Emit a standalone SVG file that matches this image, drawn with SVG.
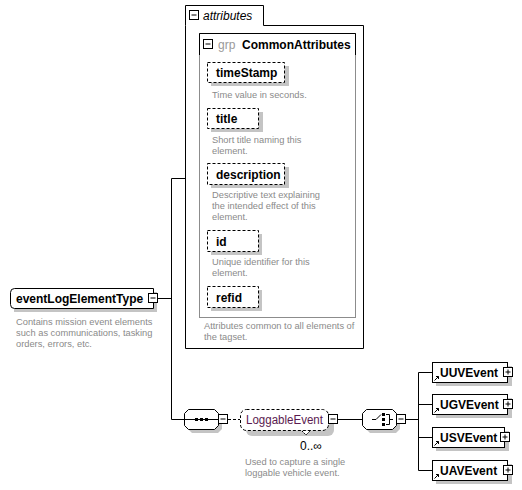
<svg xmlns="http://www.w3.org/2000/svg" width="522" height="490" viewBox="0 0 522 490">
<style>
text{font-family:"Liberation Sans",Arial,sans-serif}
.lbl{font-size:12px;font-weight:bold;fill:#000}
.desc{font-size:9.3px;fill:#8a8a8a}
.box{fill:#fff;stroke:#000;stroke-width:1}
.dbox{fill:#fff;stroke:#000;stroke-width:1;stroke-dasharray:3,2}
.sh{fill:#c4c4c4;stroke:none}
.pm{fill:#fff;stroke:#000;stroke-width:1}
.con{fill:none;stroke:#000;stroke-width:1}
</style>
<defs>
<g id="minus"><rect class="pm" x="0.5" y="0.5" width="9" height="9"/><path d="M2.5,5H7.5" stroke="#000"/></g>
<g id="plus"><rect class="pm" x="0.5" y="0.5" width="9" height="9"/><path d="M2.5,5H7.5M5,2.5V7.5" stroke="#000"/></g>
<path id="refarrow" d="M0,4L4,0M1.5,0H4V2.5" fill="none" stroke="#000" stroke-width="1"/>
</defs>

<g id="connectors">
<path class="con" d="M158,298.5H171.5M171.5,178.5V419.5M171.5,178.5H185M171.5,419.5H184"/>
<path class="con" d="M228,419.5H240" stroke-dasharray="3,2"/>
<path class="con" d="M338,419.5H362M406,419.5H418.5M418.5,372.5V470.5M418.5,372.5H432M418.5,404.5H432M418.5,437.5H432M418.5,470.5H432"/>
</g>

<g id="attributes">
<path class="box" d="M185.5,25.5V5.5H263.5V25.5H363.5V348.5H185.5Z"/>
<use href="#minus" x="189" y="10"/>
<text x="203" y="20" font-size="12" font-style="italic" fill="#000">attributes</text>
<text class="desc" x="204" y="329">Attributes common to all elements of</text>
<text class="desc" x="204" y="340">the tagset.</text>
</g>

<g id="CommonAttributes">
<rect x="199.5" y="33.5" width="156" height="284" fill="#fff" stroke="#8c8c8c"/>
<path d="M199.5,55V33.5H355.5V55" fill="none" stroke="#000"/>
<use href="#minus" x="203" y="39"/>
<text x="218" y="49" font-size="12" fill="#9a9a9a">grp</text>
<text class="lbl" x="242" y="49">CommonAttributes</text>
</g>

<g id="timeStamp">
<rect class="sh" x="211" y="66" width="78" height="20"/>
<rect class="dbox" x="207.5" y="62.5" width="77" height="20"/>
<text class="lbl" x="216" y="77">timeStamp</text>
<text class="desc" x="212" y="98">Time value in seconds.</text>
</g>

<g id="title">
<rect class="sh" x="211" y="112" width="52" height="20"/>
<rect class="dbox" x="207.5" y="108.5" width="51" height="20"/>
<text class="lbl" x="216" y="123">title</text>
<text class="desc" x="212" y="143">Short title naming this</text>
<text class="desc" x="212" y="154">element.</text>
</g>

<g id="description">
<rect class="sh" x="211" y="167" width="78" height="21"/>
<rect class="dbox" x="207.5" y="163.5" width="77" height="21"/>
<text class="lbl" x="216" y="179">description</text>
<text class="desc" x="212" y="198">Descriptive text explaining</text>
<text class="desc" x="212" y="209">the intended effect of this</text>
<text class="desc" x="212" y="220">element.</text>
</g>

<g id="id">
<rect class="sh" x="211" y="234" width="51" height="21"/>
<rect class="dbox" x="207.5" y="230.5" width="51" height="21"/>
<text class="lbl" x="216" y="246">id</text>
<text class="desc" x="212" y="265">Unique identifier for this</text>
<text class="desc" x="212" y="276">element.</text>
</g>

<g id="refid">
<rect class="sh" x="211" y="290" width="51" height="21"/>
<rect class="dbox" x="207.5" y="286.5" width="51" height="21"/>
<text class="lbl" x="216" y="302">refid</text>
</g>

<g id="eventLogElementType">
<path class="sh" d="M18,292H157V312H14V296Z"/>
<path class="box" d="M14.5,288.5H153.5V308.5H14.5Q10.5,308.5 10.5,304.5V292.5Q10.5,288.5 14.5,288.5Z"/>
<use href="#minus" x="148" y="293"/>
<text class="lbl" x="16" y="303">eventLogElementType</text>
<text class="desc" x="16" y="325">Contains mission event elements</text>
<text class="desc" x="16" y="336">such as communications, tasking</text>
<text class="desc" x="16" y="347">orders, errors, etc.</text>
</g>

<g id="sequence">
<path class="sh" d="M192,413H218L222,417V429L218,433H192L188,429V417Z"/>
<path class="box" d="M188.5,409.5H214.5L218.5,413.5V425.5L214.5,429.5H188.5L184.5,425.5V413.5Z"/>
<path d="M184.5,419.5H218.5" stroke="#000"/>
<rect x="195" y="418" width="3" height="3" fill="#000"/>
<rect x="200" y="418" width="3" height="3" fill="#000"/>
<rect x="205" y="418" width="3" height="3" fill="#000"/>
<use href="#minus" x="218" y="414"/>
</g>

<g id="LoggableEvent">
<rect class="sh" x="246" y="415" width="88" height="21" rx="6"/>
<path d="M302,431L306,435L310,431" fill="#fff" stroke="#000" stroke-width="1" stroke-dasharray="2,1"/>
<rect class="dbox" x="240.5" y="409.5" width="88" height="21" rx="6"/>
<text x="246" y="424" font-size="12" fill="#5a1a50" textLength="77" lengthAdjust="spacingAndGlyphs">LoggableEvent</text>
<use href="#minus" x="328" y="414"/>
<text x="300" y="450" font-size="12" fill="#000">0..∞</text>
<text class="desc" x="245" y="465">Used to capture a single</text>
<text class="desc" x="245" y="476">loggable vehicle event.</text>
</g>

<g id="choice">
<path class="sh" d="M370,413H396L400,417V429L396,433H370L366,429V417Z"/>
<path class="box" d="M366.5,409.5H392.5L396.5,413.5V425.5L392.5,429.5H366.5L362.5,425.5V413.5Z"/>
<path d="M372,419.5H376L381,414.5" fill="none" stroke="#000"/>
<rect x="382" y="413" width="3" height="3" fill="#000"/>
<rect x="382" y="418" width="3" height="3" fill="#000"/>
<rect x="382" y="423" width="3" height="3" fill="#000"/>
<path d="M386,414.5H389.5V424.5H386M389.5,419.5H393" fill="none" stroke="#000"/>
<use href="#minus" x="396" y="414"/>
</g>

<g id="UUVEvent">
<rect class="sh" x="436" y="366" width="76" height="20"/>
<rect class="box" x="432.5" y="362.5" width="75" height="20"/>
<use href="#refarrow" x="434.5" y="376.5"/>
<text class="lbl" x="440" y="377">UUVEvent</text>
<use href="#plus" x="503" y="367"/>
</g>

<g id="UGVEvent">
<rect class="sh" x="436" y="398" width="76" height="20"/>
<rect class="box" x="432.5" y="394.5" width="75" height="20"/>
<use href="#refarrow" x="434.5" y="408.5"/>
<text class="lbl" x="440" y="409">UGVEvent</text>
<use href="#plus" x="503" y="399"/>
</g>

<g id="USVEvent">
<rect class="sh" x="436" y="431" width="73" height="20"/>
<rect class="box" x="432.5" y="427.5" width="72" height="20"/>
<use href="#refarrow" x="434.5" y="441.5"/>
<text class="lbl" x="440" y="442">USVEvent</text>
<use href="#plus" x="500" y="432"/>
</g>

<g id="UAVEvent">
<rect class="sh" x="436" y="464" width="76" height="20"/>
<rect class="box" x="432.5" y="460.5" width="75" height="20"/>
<use href="#refarrow" x="434.5" y="474.5"/>
<text class="lbl" x="440" y="475">UAVEvent</text>
<use href="#plus" x="503" y="465"/>
</g>
</svg>
